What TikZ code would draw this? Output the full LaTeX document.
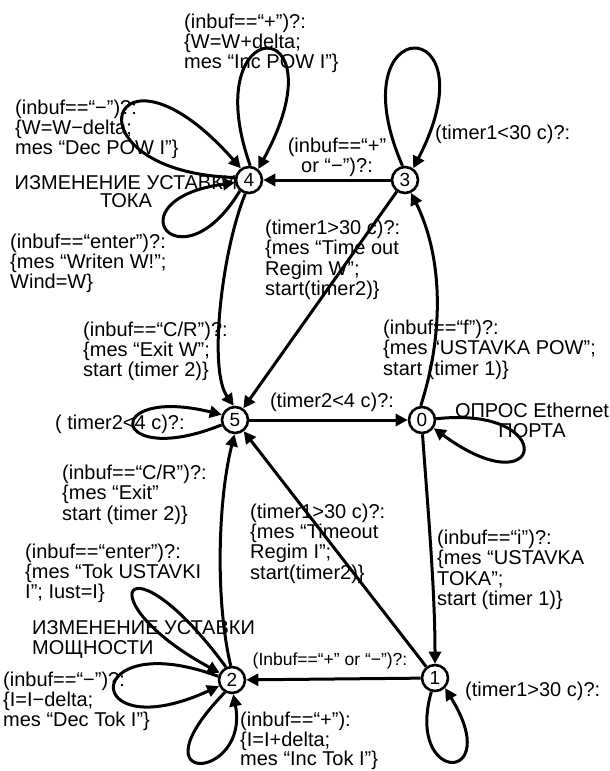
\documentclass[tikz,border=0pt]{standalone}
\usepackage{fontspec}
\setmainfont{Liberation Sans}
\usetikzlibrary{arrows.meta}
\begin{document}
\begin{tikzpicture}[x=1pt,y=-1pt,
  state/.style={circle,draw,line width=2.6pt,minimum size=26pt,inner sep=0pt,
    font=\fontsize{19}{19}\selectfont},
  edge/.style={line width=3pt,-{Triangle[length=12pt,width=12pt]}},
  lbl/.style={inner sep=0pt,align=left,anchor=north west,
    font=\fontsize{20}{20.3}\selectfont},
  lblc/.style={inner sep=0pt,align=center,anchor=north,
    font=\fontsize{20}{20.3}\selectfont},
]
\useasboundingbox (0,0) rectangle (610,771);

% states
\node[state] (n4) at (249,180) {4};
\node[state] (n3) at (405,180) {3};
\node[state] (n5) at (235,420) {5};
\node[state] (n0) at (422,420) {0};
\node[state] (n2) at (232,680) {2};
\node[state] (n1) at (435,678) {1};

% labels
\node[lbl] (tA) at (184,13.5) {(inbuf==“+”)?:\\\{W=W+delta;\\mes “Inc POW I”\}};
\node[lbl] (tB) at (15,99.5) {(inbuf==“−”)?:\\\{W=W−delta;\\mes “Dec POW I”\}};
\node[inner sep=0pt,align=center,anchor=north,
  font=\fontsize{20}{18.5}\selectfont] (tC) at (126,175) {ИЗМЕНЕНИЕ УСТАВКИ\\ТОКА};
\node[lbl] (tD) at (10,233.5) {(inbuf==“enter”)?:\\\{mes “Writen W!”;\\Wind=W\}};
\node[lblc] (tE) at (337,138) {(inbuf==“+”\\or “−”)?:};
\node[lbl] (tF) at (435,124.5) {(timer1<30 c)?:};
\node[lbl] (tG) at (265,220) {(timer1>30 c)?:\\\{mes “Time out\\Regim W”;\\start(timer2)\}};
\node[lbl] (tH) at (83,321.5) {(inbuf==“C/R”)?:\\\{mes “Exit W”;\\start (timer 2)\}};
\node[lbl] (tI) at (383,320) {(inbuf==“f”)?:\\\{mes “USTAVKA POW”;\\start (timer 1)\}};
\node[lblc] (tJ) at (332,393) {(timer2<4 c)?:};
\node[lblc] (tK) at (532,403) {ОПРОС Ethernet\\ПОРТА};
\node[lbl] (tL) at (55,414.5) {( timer2<4 c)?:};
\node[lbl] (tM) at (62,465) {(inbuf==“C/R”)?:\\\{mes “Exit”\\start (timer 2)\}};
\node[lbl] (tN) at (250,503.5) {(timer1>30 c)?:\\\{mes “Timeout\\Regim I”;\\start(timer2)\}};
\node[lbl] (tO) at (437,530) {(inbuf==“i”)?:\\\{mes “USTAVKA\\TOKA”;\\start (timer 1)\}};
\node[lbl] (tP) at (25,543.5) {(inbuf==“enter”)?:\\\{mes “Tok USTAVKI\\I”; Iust=I\}};
\node[lbl] (tQ) at (32,620) {ИЗМЕНЕНИЕ УСТАВКИ\\МОЩНОСТИ};
\node[inner sep=0pt,anchor=north,font=\fontsize{17.5}{18}\selectfont] (tR) at (330,653) {(Inbuf==“+” or “−”)?:};
\node[lbl] (tS) at (3,671.5) {(inbuf==“−”)?:\\\{I=I−delta;\\mes “Dec Tok I”\}};
\node[lbl,font=\fontsize{20}{19.5}\selectfont] (tT) at (240,712) {(inbuf==“+”):\\\{I=I+delta;\\mes “Inc Tok I”\}};
\node[lbl] (tU) at (465,681.5) {(timer1>30 c)?:};

% transitions
\draw[edge] (n3) -- (n4);
\draw[edge] (n3.100) .. controls (335,10) and (495,10) .. (n3.55);
\draw[edge] (n4.85) .. controls (195,10) and (345,10) .. (n4.50);
\draw[edge] (n4.170) .. controls (60,172) and (110,20) .. (n4.125);
\draw[edge] (n4.230) .. controls (180,290) and (110,200) .. (n4.190);
\draw[edge] (n4.255) .. controls (222,250) and (208,370) .. (n5.95);
\draw[edge] (n3) -- (n5);
\draw[edge] (n0.95) .. controls (445,330) and (442,255) .. (n3.-65);
\draw[edge] (n5) -- (n0);
\draw[edge] (n0.5) .. controls (560,405) and (545,510) .. (n0.-35);
\draw[edge] (n0.272) .. controls (428,510) and (435,590) .. (n1.90);
\draw[edge] (n1.255) .. controls (405,785) and (505,785) .. (n1.-45);
\draw[edge] (n1) -- (n5);
\draw[edge] (n1) -- (n2);
\draw[edge] (n2.95) .. controls (215,600) and (218,500) .. (n5.268);
\draw[edge] (n5.200) .. controls (110,470) and (100,385) .. (n5.158);
\draw[edge] (n2.115) .. controls (125,530) and (85,600) .. (n2.150);
\draw[edge] (n2.165) .. controls (80,625) and (80,750) .. (n2.205);
\draw[edge] (n2.240) .. controls (130,790) and (250,780) .. (n2.275);
\end{tikzpicture}
\end{document}
